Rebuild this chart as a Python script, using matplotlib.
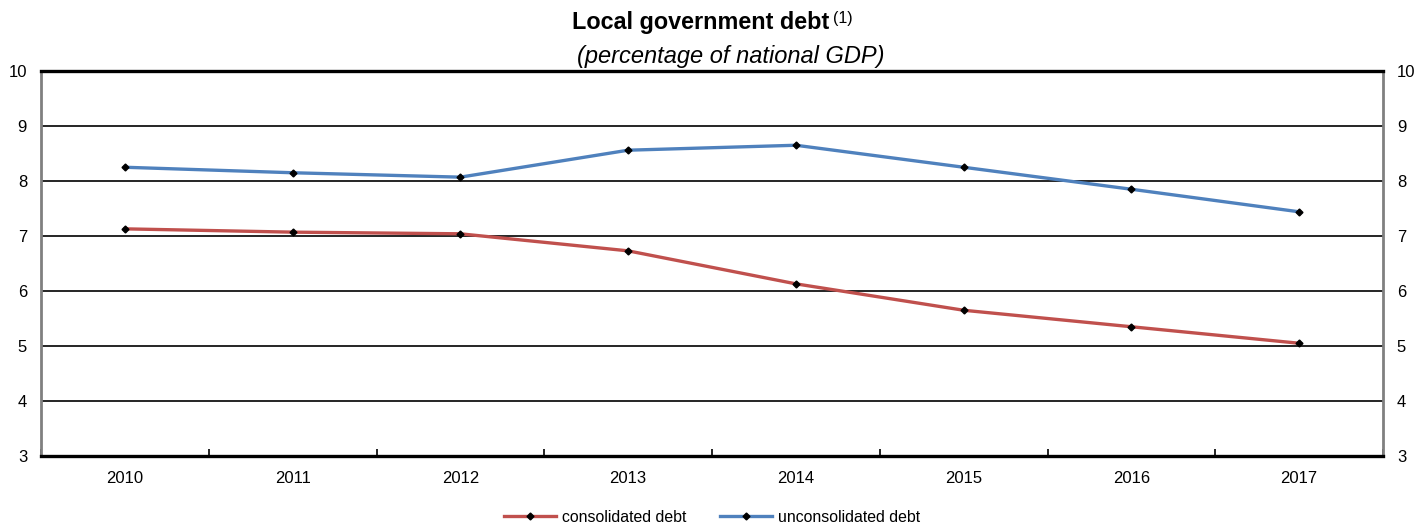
import matplotlib.pyplot as plt
import numpy as np

plt.rcParams['font.family'] = ['Liberation Sans', 'DejaVu Sans']

# datos
years = ['2010', '2011', '2012', '2013', '2014', '2015', '2016', '2017']
consolidated = [7.13, 7.07, 7.04, 6.73, 6.13, 5.65, 5.35, 5.05]
unconsolidated = [8.25, 8.15, 8.07, 8.56, 8.65, 8.25, 7.85, 7.44]

red = '#C0504D'
blue = '#4F81BD'
W, H = 1416, 524

fig = plt.figure(figsize=(W / 100, H / 100), dpi=100)
ax = fig.add_axes([41 / W, 1 - 456 / H, (1383 - 41) / W, (456 - 71) / H])

x = np.arange(len(years))
ax.plot(x, consolidated, color=red, lw=2.4, marker='D', ms=3.5,
        mfc='black', mec='black', label='consolidated debt', zorder=3)
ax.plot(x, unconsolidated, color=blue, lw=2.4, marker='D', ms=3.5,
        mfc='black', mec='black', label='unconsolidated debt', zorder=3)

ax.set_xlim(-0.5, len(years) - 0.5)
ax.set_ylim(3, 10)
ax.set_yticks(range(3, 11))
ax.tick_params(axis='y', length=0, labelsize=12, pad=10, labelright=True, right=False)

# rejilla horizontal
for v in range(4, 10):
    ax.axhline(v, color='black', lw=1.2, zorder=1)

# ticks del eje x entre categorias
ax.set_xticks(x)
ax.set_xticklabels(years, fontsize=12)
ax.tick_params(axis='x', length=0, pad=11)
ax.set_xticks(np.arange(-0.5, len(years)), minor=True)
ax.tick_params(axis='x', which='minor', direction='in', length=5, width=1.2, color='black')

for s in ['top', 'bottom']:
    ax.spines[s].set_color('black')
    ax.spines[s].set_linewidth(2.4)
for s in ['left', 'right']:
    ax.spines[s].set_color('#808080')
    ax.spines[s].set_linewidth(2)

# titulo
t = fig.text(572 / W, 1 - 22 / H, 'Local government debt', ha='left', va='center',
             fontsize=16.8, fontweight='bold')
fig.canvas.draw()
bb = t.get_window_extent()
fig.text((bb.x1 + 4) / W, 1 - 19 / H, '(1)', ha='left', va='center', fontsize=11.5)
fig.text(731 / W, 1 - 57 / H, '(percentage of national GDP)', ha='center', va='center',
         fontsize=17, style='italic')

ax.legend(loc='center', bbox_to_anchor=(0.5, -(517 - 456) / (456 - 71)), ncol=2,
          frameon=False, fontsize=11.4, handlelength=3.3, numpoints=1,
          columnspacing=2.1, handletextpad=0.4)

plt.savefig('out.png', dpi=100)
